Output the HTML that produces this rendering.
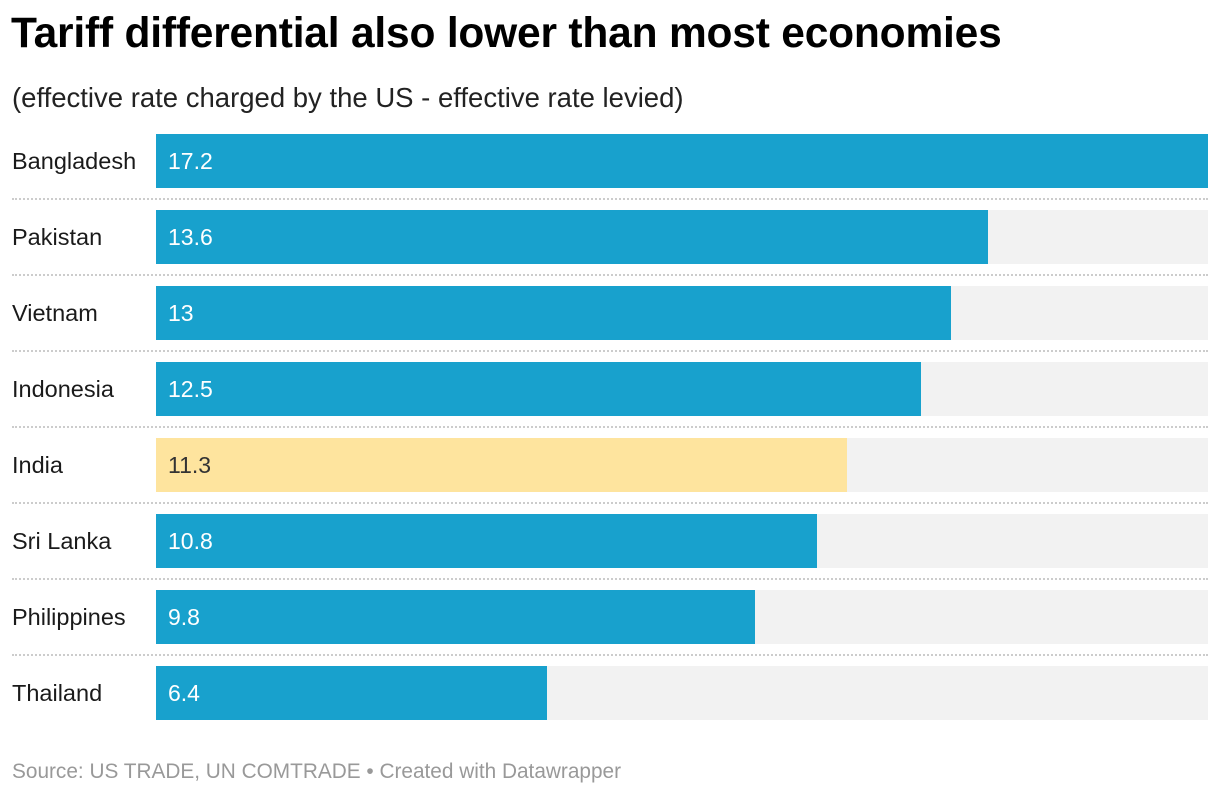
<!DOCTYPE html>
<html><head><meta charset="utf-8"><style>
body{margin:0;width:1220px;height:796px;background:#fff;font-family:"Liberation Sans",sans-serif;position:relative;overflow:hidden}
.t{position:absolute;left:11px;top:10px;font-size:42.5px;font-weight:bold;color:#000;letter-spacing:-0.2px}
.s{position:absolute;left:12px;top:82px;font-size:27.5px;color:#222}
.f{position:absolute;left:12px;top:760px;font-size:20.8px;color:#999}
.lab{position:absolute;left:12px;font-size:23.5px;color:#1a1a1a;height:54px;line-height:54px}
.bg{position:absolute;left:156px;width:1052px;height:54px;background:#f2f2f2}
.bar{position:absolute;left:156px;height:54px}
.val{position:absolute;left:168px;font-size:23px;height:54px;line-height:54px}
.sep{position:absolute;left:12px;width:1196px;border-top:2px dotted #ccc;height:0}
</style></head><body>
<div class="t">Tariff differential also lower than most economies</div>
<div class="s">(effective rate charged by the US - effective rate levied)</div>
<div id="chart"></div>
<div class="f">Source: US TRADE, UN COMTRADE • Created with Datawrapper</div>
<script>
const categories=["Bangladesh","Pakistan","Vietnam","Indonesia","India","Sri Lanka","Philippines","Thailand"];
const values=[17.2,13.6,13,12.5,11.3,10.8,9.8,6.4];
const highlight=["India"];
const maxV=17.2,x0=156,w=1052,top0=134,pitch=76;
const x=v=>v/maxV*w;
const c=document.getElementById('chart');
categories.forEach((cat,i)=>{
 const y=top0+i*pitch;
 const l=document.createElement('div');l.className='lab';l.style.top=y+'px';l.textContent=cat;
 
 c.appendChild(l);
 const bg=document.createElement('div');bg.className='bg';bg.style.top=y+'px';
 
 c.appendChild(bg);
 const hl=highlight.includes(cat);
 const b=document.createElement('div');b.className='bar';b.style.top=y+'px';b.style.width=x(values[i])+'px';b.style.background=hl?'#fee49e':'#18a1cd';
 
 c.appendChild(b);
 const v=document.createElement('div');v.className='val';v.style.top=y+'px';v.style.color=hl?'#333':'#fff';v.textContent=values[i];
 
 c.appendChild(v);
 if(i<categories.length-1){const s=document.createElement('div');s.className='sep';s.style.top=(y+64)+'px';
 
 c.appendChild(s);}
});
</script>
</body></html>
